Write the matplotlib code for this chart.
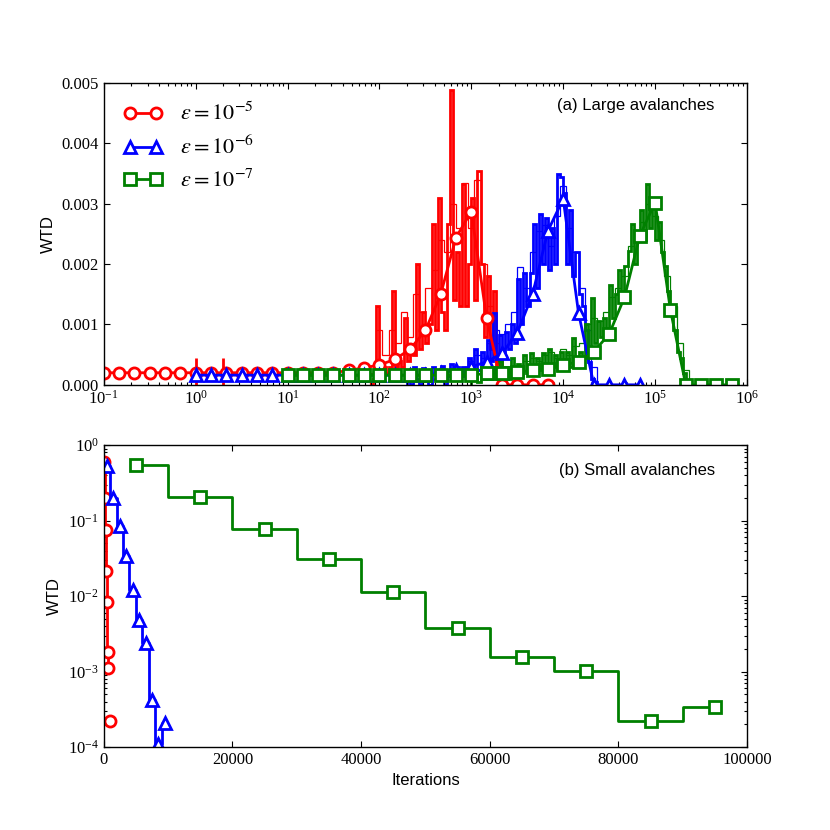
import numpy as np
import matplotlib
matplotlib.use("Agg")
import matplotlib.pyplot as plt
from matplotlib.ticker import FormatStrFormatter, LogLocator

# ---------------------------------------------------------------------------
# Data (WTD values in units of 1e-3 for panel a)
# ---------------------------------------------------------------------------
labels = [r"$\varepsilon=10^{-5}$", r"$\varepsilon=10^{-6}$", r"$\varepsilon=10^{-7}$"]
colors = ["r", "b", "g"]
markers = ["o", "^", "s"]

# log-binned smooth curves, 6 bins per decade, first bin exponent
curve_step = 1.0 / 6.0
red_curve_x0 = -1.0
red_curve = [0.2] * 16 + [0.24, 0.28, 0.33, 0.42, 0.59, 0.9, 1.5, 2.44, 2.87,
                          1.1, 0.0, 0.0, 0.0, 0.0]
blue_curve_x0 = 0.0
blue_curve = [0.16] * 16 + [0.2, 0.24, 0.3, 0.38, 0.52, 0.86, 1.5, 2.55, 3.08,
                            1.19, 0.0, 0.0, 0.0, 0.0]
green_curve_x0 = 1.0
green_curve = [0.16] * 13 + [0.19, 0.2, 0.21, 0.24, 0.26, 0.33, 0.38, 0.55,
                             0.84, 1.45, 2.47, 3.02, 1.24, 0.0, 0.0, 0.0, 0.0]

# fine histograms (thick), 30 bins per decade
thick_step = 1.0 / 30.0
red_thick_x0 = 1.9
red_thick = [0.0, 0.1, 1.3, 0.1, 0.3, 0.2, 0.3, 1.55, 0.3, 0.4,
             0.3, 1.1, 0.4, 0.6, 0.5, 2.0, 0.6, 1.2, 0.7, 1.0,
             2.67, 0.9, 3.1, 1.2, 0.9, 2.67, 4.88, 1.4, 2.2, 1.3,
             3.33, 1.3, 2.0, 3.1, 1.4, 3.55, 2.0, 0.8, 1.8, 0.6,
             1.55, 0.2, 0.4, 0.0, 0.0]
blue_thick_x0 = 2.3
blue_thick = [0.25, 0.0, 0.3, 0.1, 0.0, 0.28, 0.15, 0.0, 0.3, 0.2,
              0.1, 0.32, 0.0, 0.25, 0.35, 0.1, 0.3, 0.2,
              0.3, 0.15, 0.45, 0.2, 0.6, 0.25, 0.55, 0.3, 0.75, 0.4,
              1.19, 0.5, 0.82, 0.5, 0.88, 0.6, 1.0, 0.7, 1.75, 1.0,
              1.86, 1.3, 1.86, 2.67, 1.6, 2.83, 2.0, 2.77, 1.9, 2.6,
              2.0, 3.5, 3.45, 3.17, 2.0, 2.9, 1.8, 2.2, 1.5, 1.3,
              0.9, 0.38, 0.1, 0.05, 0.0]
green_thick_x0 = 3.0
green_thick = [0.1, 0.25, 0.05, 0.3, 0.1, 0.35, 0.1, 0.3, 0.1, 0.4,
               0.15, 0.3, 0.1, 0.45, 0.2, 0.35, 0.15, 0.5, 0.2, 0.52,
               0.2, 0.45, 0.25, 0.52, 0.2, 0.6, 0.3, 0.5, 0.25, 0.55,
               0.3, 0.55, 0.3, 0.77, 0.4, 0.55, 0.45, 1.0, 0.5, 1.44,
               0.7, 1.06, 0.8, 1.1, 0.9, 1.66, 1.1, 1.5, 1.9, 1.4,
               1.97, 2.22, 2.66, 2.0, 2.5, 2.9, 2.4, 3.33, 2.6, 2.95,
               2.4, 2.7, 2.2, 1.97, 1.55, 1.2, 0.9, 0.55, 0.44, 0.2,
               0.05, 0.0]

# coarser histograms (thin), 15 bins per decade
thin_step = 1.0 / 15.0
red_thin_x0 = 1.9
red_thin = [0.2, 0.9, 0.5, 0.9, 0.7, 1.2, 0.8, 1.5, 1.2, 1.6, 1.9, 2.4,
            2.2, 3.0, 2.6, 3.35, 2.6, 3.4, 2.0, 1.3, 0.7, 0.2, 0.0]
blue_thin_x0 = 2.9
blue_thin = [0.3, 0.4, 0.5, 0.45, 0.7, 0.9, 0.85, 1.0, 1.2, 1.95, 1.6, 2.2,
             2.55, 2.65, 2.3, 2.8, 3.3, 2.6, 2.2, 1.6, 0.9, 0.3, 0.0]
green_thin_x0 = 3.5
green_thin = [0.3, 0.4, 0.45, 0.4, 0.5, 0.55, 0.45, 0.6, 0.5, 0.65, 0.7,
              1.0, 1.1, 1.05, 1.2, 1.45, 1.6, 1.8, 2.3, 2.4, 2.7, 3.0, 2.8,
              2.4, 1.8, 1.3, 0.7, 0.25, 0.0]

# isolated early events
red_spike_x = [1.0, 2.0]
red_spike_y = [0.45, 0.45]

# panel b: small avalanches, linear bins
red_small_x = [100, 200, 300, 400, 500, 600, 700, 800, 900]
red_small_y = [0.6, 0.2, 0.076, 0.0217, 0.0084, 0.0018, 0.0011, np.nan, 0.00022]
blue_small_x = [500, 1500, 2500, 3500, 4500, 5500, 6500, 7500, 8500, 9500]
blue_small_y = [0.53, 0.2, 0.086, 0.0345, 0.012, 0.0048, 0.0024, 0.00042,
                0.000108, 0.000206]
green_small_x = [5000, 15000, 25000, 35000, 45000, 55000, 65000, 75000, 85000, 95000]
green_small_y = [0.543, 0.207, 0.078, 0.0312, 0.0115, 0.0038, 0.00155, 0.00102,
                 0.000224, 0.00034]

# ---------------------------------------------------------------------------
# Style
# ---------------------------------------------------------------------------
plt.rcParams["font.family"] = ["Liberation Serif", "DejaVu Serif"]
plt.rcParams["mathtext.fontset"] = "stix"
plt.rcParams["font.size"] = 12
SANS = ["Liberation Sans", "DejaVu Sans"]


def style_axes(ax):
    ax.tick_params(which="both", direction="in", top=True, right=True, width=0.8)
    ax.tick_params(which="major", length=4)
    ax.tick_params(which="minor", length=2)
    for sp in ax.spines.values():
        sp.set_linewidth(1.0)


def edges(x0, step, n):
    return 10.0 ** (x0 + np.arange(n + 1) * step)


fig, (ax1, ax2) = plt.subplots(2, 1, figsize=(8.3, 8.3), dpi=100)
fig.subplots_adjust(left=0.125, right=0.9, bottom=0.1, top=0.9, hspace=0.2)

# ---------------------------------------------------------------------------
# Panel a
# ---------------------------------------------------------------------------
thin_sets = [(red_thin_x0, red_thin), (blue_thin_x0, blue_thin), (green_thin_x0, green_thin)]
thick_sets = [(red_thick_x0, red_thick), (blue_thick_x0, blue_thick),
              (green_thick_x0, green_thick)]
curve_sets = [(red_curve_x0, red_curve), (blue_curve_x0, blue_curve),
              (green_curve_x0, green_curve)]

for (x0, vals), c in zip(thin_sets, colors):
    v = np.array(vals) * 1e-3
    ax1.stairs(v, edges(x0, thin_step, len(v)), color=c, lw=0.9)
for (x0, vals), c in zip(thick_sets, colors):
    v = np.array(vals) * 1e-3
    ax1.stairs(v, edges(x0, thick_step, len(v)), color=c, lw=2.0)
ax1.vlines(red_spike_x, 0, np.array(red_spike_y) * 1e-3, color="r", lw=2.0)

for (x0, vals), c, m, lab in zip(curve_sets, colors, markers, labels):
    v = np.array(vals) * 1e-3
    x = 10.0 ** (x0 + np.arange(len(v)) * curve_step)
    ax1.plot(x, v, color=c, lw=2, marker=m, ms=8, mew=2, mfc="white",
             mec=c, label=lab)

ax1.set_xscale("log")
ax1.set_xlim(1e-1, 1e6)
ax1.set_ylim(0, 0.005)
ax1.xaxis.set_minor_locator(LogLocator(base=10, subs=np.arange(2, 10), numticks=20))
ax1.yaxis.set_major_formatter(FormatStrFormatter("%.3f"))
ax1.set_ylabel("WTD", family=SANS, fontsize=12)
ax1.text(0.95, 0.925, "(a) Large avalanches", transform=ax1.transAxes,
         ha="right", va="center", family=SANS, fontsize=12)
ax1.legend(loc="upper left", frameon=False, numpoints=2, fontsize=16,
           handlelength=1.75, handletextpad=0.8, labelspacing=0.48)
style_axes(ax1)

# ---------------------------------------------------------------------------
# Panel b
# ---------------------------------------------------------------------------
small_sets = [(red_small_x, red_small_y), (blue_small_x, blue_small_y),
              (green_small_x, green_small_y)]
for (x, y), c, m in zip(small_sets, colors, markers):
    ax2.plot(x, y, color=c, lw=2, drawstyle="steps-mid", marker=m, ms=8,
             mew=2, mfc="white", mec=c)

ax2.set_yscale("log")
ax2.set_xlim(0, 100000)
ax2.set_ylim(1e-4, 1)
ax2.set_ylabel("WTD", family=SANS, fontsize=12)
ax2.set_xlabel("Iterations", family=SANS, fontsize=12)
ax2.text(0.95, 0.917, "(b) Small avalanches", transform=ax2.transAxes,
         ha="right", va="center", family=SANS, fontsize=12)
style_axes(ax2)

fig.savefig("out.png", dpi=100, facecolor="white")
